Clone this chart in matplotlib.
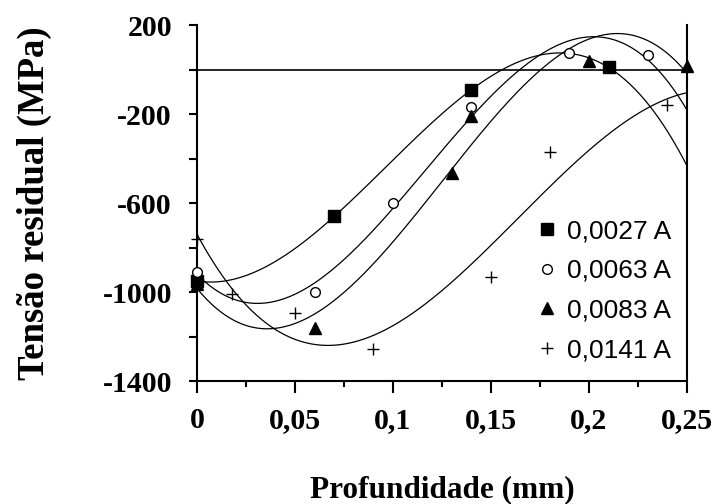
import matplotlib.pyplot as plt
import numpy as np

# data
x_27 = [0.0, 0.07, 0.14, 0.21]
y_27 = [-950, -660, -90, 10]

x_63 = [0.0, 0.06, 0.10, 0.14, 0.19, 0.23]
y_63 = [-910, -1000, -600, -170, 75, 65]

x_83 = [0.0, 0.06, 0.13, 0.14, 0.20, 0.25]
y_83 = [-965, -1160, -465, -210, 40, 15]

x_141 = [0.0, 0.018, 0.05, 0.09, 0.15, 0.18, 0.24]
y_141 = [-760, -1010, -1095, -1255, -930, -370, -160]

labels = ['0,0027 A', '0,0063 A', '0,0083 A', '0,0141 A']
markers = ['s', 'o', '^', '+']
xticklabels = ['0', '0,05', '0,1', '0,15', '0,2', '0,25']
yticks = [200, -200, -600, -1000, -1400]

fig = plt.figure(figsize=(7.16, 5.04), dpi=100)
ax = fig.add_axes([0.2751, 0.244, 0.6844, 0.706])

xs = np.linspace(0, 0.25, 300)
series = [(x_27, y_27), (x_63, y_63), (x_83, y_83), (x_141, y_141)]
for (x, y), m, lab in zip(series, markers, labels):
    # polynomial trendline (3rd order) as in the original spreadsheet chart
    c = np.polyfit(x, y, 3)
    ax.plot(xs, np.polyval(c, xs), color='black', lw=0.9, clip_on=False)
    if m == 'o':
        ax.plot(x, y, ls='none', marker='o', ms=7, mfc='white', mec='black',
                mew=1.0, label=lab, clip_on=False, zorder=3)
    elif m == '+':
        ax.plot(x, y, ls='none', marker='+', ms=9, color='black', mew=1.0,
                label=lab, clip_on=False, zorder=3)
    else:
        ax.plot(x, y, ls='none', marker=m, ms=8, color='black',
                label=lab, clip_on=False, zorder=3)

ax.axhline(0, color='black', lw=1.2)
ax.set_xlim(0, 0.25)
ax.set_ylim(-1400, 200)

ax.spines['top'].set_visible(False)
for s in ['left', 'bottom', 'right']:
    ax.spines[s].set_linewidth(1.5)

ax.set_xticks([0, 0.05, 0.1, 0.15, 0.2, 0.25])
ax.set_xticks(np.arange(0.025, 0.25, 0.05), minor=True)
ax.set_xticklabels(xticklabels)
ax.set_yticks(yticks)
ax.set_yticks([0, -400, -800, -1200], minor=True)
ax.set_yticklabels([str(v) for v in yticks])

for t in ax.get_xticklabels() + ax.get_yticklabels():
    t.set_fontfamily('Liberation Serif')
    t.set_fontweight('bold')
    t.set_fontsize(21.5)
ax.tick_params(axis='x', which='major', length=8.5, width=1.5, direction='out', pad=10)
ax.tick_params(axis='x', which='minor', length=4, width=1.5, direction='out')
ax.tick_params(axis='y', which='both', length=6, width=1.5, direction='out', pad=12)

ax.set_xlabel('Profundidade (mm)', fontfamily='Liberation Serif',
              fontweight='bold', fontsize=22.5, labelpad=30)
ax.set_ylabel('Tensão residual (MPa)', fontfamily='Liberation Serif',
              fontweight='bold', fontsize=26.5, labelpad=36)

leg = ax.legend(loc='lower right', bbox_to_anchor=(1.005, 0.0), frameon=False,
                prop={'family': 'Liberation Sans', 'size': 19},
                handletextpad=0.25, labelspacing=0.6, handlelength=1.0,
                borderaxespad=0.3)

fig.savefig('out.png', dpi=100)
